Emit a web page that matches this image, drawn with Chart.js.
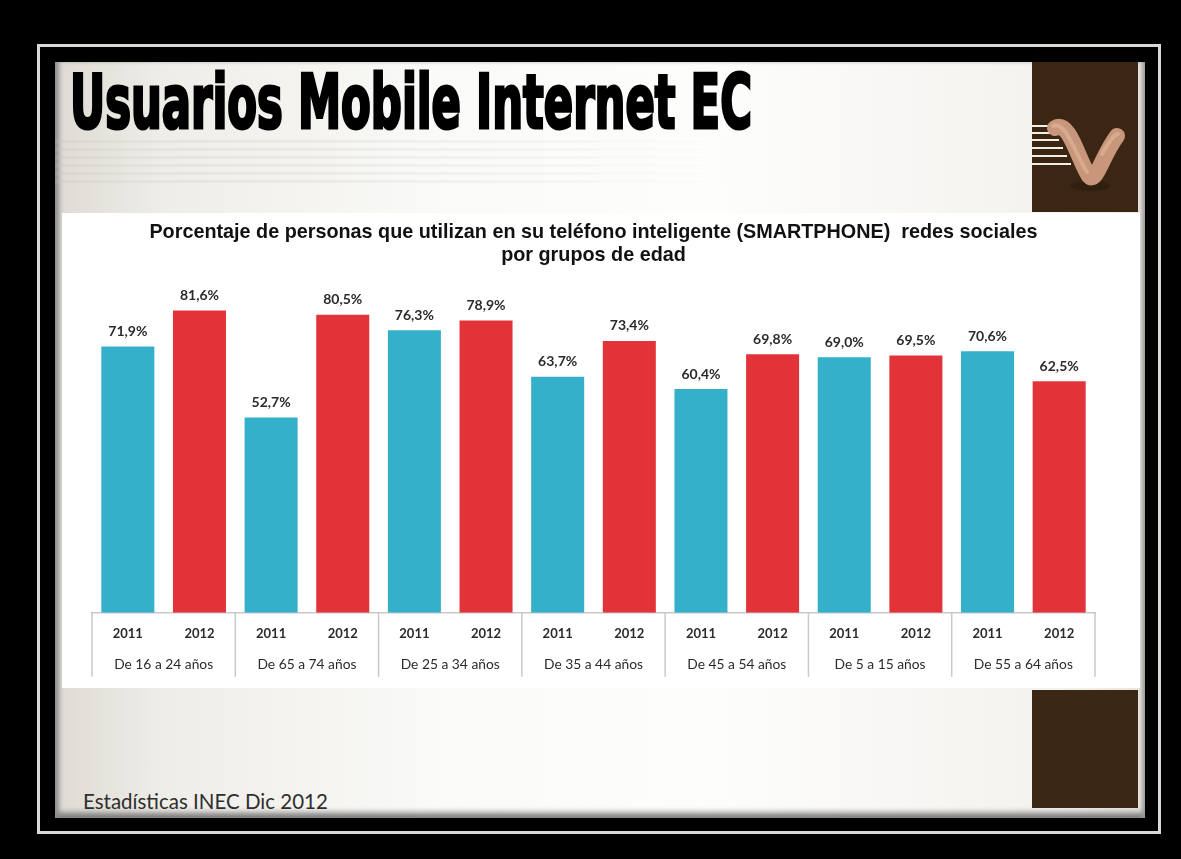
<!DOCTYPE html>
<html lang="es">
<head>
<meta charset="utf-8">
<title>Usuarios Mobile Internet EC</title>
<script src="https://cdn.jsdelivr.net/npm/chart.js@4.4.1/dist/chart.umd.min.js"></script>
<style>
  html, body { margin: 0; padding: 0; }
  body {
    width: 1181px; height: 859px; background: #000;
    position: relative; overflow: hidden;
  }
  /* marco claro alrededor de la diapositiva */
  #marco {
    position: absolute; left: 37px; top: 44px; width: 1124px; height: 790px;
    border: 3px solid #d9d9d9; box-sizing: border-box;
  }
  #diapo {
    position: absolute; left: 55px; top: 62px; width: 1090px; height: 756px;
    background: linear-gradient(90deg, #dedbd4 0%, #efede8 10%, #fafaf8 35%, #fdfdfc 60%, #f4f2ee 92%, #e9e6e0 100%);
    box-shadow: inset 6px 0 5px -2px #8d8d8d, inset -5px 0 4px -2px #9a9a9a, inset 0 -9px 6px -4px #777;
    overflow: hidden;
  }
  #rayas {
    position: absolute; left: 0; top: 78px; width: 700px; height: 45px;
    background: repeating-linear-gradient(180deg, rgba(200,198,192,0.22) 0 3px, rgba(255,255,255,0) 3px 8px);
    -webkit-mask-image: linear-gradient(90deg, #000 0%, #000 40%, transparent 100%);
  }
  #titulo {
    position: absolute; left: 15px; top: 3px;
    font-family: "Liberation Sans Narrow", "DejaVu Sans Condensed", sans-serif;
    font-weight: bold; font-size: 72px; line-height: 72px; color: #000;
    -webkit-text-stroke: 3px #000; white-space: nowrap;
    transform-origin: 0 0;
  }
  .cafe { position: absolute; left: 977px; width: 106px; background: #3b2614; }
  #logo { top: 0; height: 150px; }
  #cafeAbajo { top: 628px; height: 118px; background: #3a2715; }
  #panel {
    position: absolute; left: 7px; top: 151px; width: 1078px; height: 475px;
    background: #fff;
  }
  #pie {
    position: absolute; left: 28px; top: 727px;
    font-family: Lato, "Open Sans", sans-serif; font-size: 20.5px; color: #2e2e2e;
  }
</style>
</head>
<body>
<div id="marco"></div>
<div id="diapo">
  <div id="rayas"></div>
  <div id="titulo">Usuarios Mobile Internet EC</div>
  <div id="logo" class="cafe">
    <svg width="106" height="150" viewBox="0 0 106 150">
      <g fill="#f3eee8">
        <rect x="0" y="63" width="20" height="2"/>
        <rect x="0" y="70" width="24" height="2"/>
        <rect x="0" y="77" width="27" height="2"/>
        <rect x="0" y="85" width="31" height="2"/>
        <rect x="0" y="93" width="35" height="2"/>
        <rect x="0" y="101" width="39" height="2"/>
      </g>
      <ellipse cx="58" cy="124" rx="20" ry="5" fill="#2c1b0d" opacity="0.7"/>
      <path d="M23 66 C 38 58, 46 98, 57 114 C 64 122, 70 94, 85 74"
            fill="none" stroke="#c8967a" stroke-width="16" stroke-linecap="round"/>
      <path d="M21 64 C 34 58, 44 94, 55 110 M 70 92 C 76 82, 80 74, 86 72"
            fill="none" stroke="#e3b79b" stroke-width="4" stroke-linecap="round" opacity="0.6"/>
    </svg>
  </div>
  <div id="panel"><canvas id="grafico"></canvas></div>
  <div id="cafeAbajo" class="cafe"></div>
  <div id="pie">Estadísticas INEC Dic 2012</div>
</div>

<script>
// datos: porcentaje de personas que usan redes sociales en su smartphone
const gruposEdad = [
  "De 16 a 24 años", "De 65 a 74 años", "De 25 a 34 años", "De 35 a 44 años",
  "De 45 a 54 años", "De 5 a 15 años", "De 55 a 64 años",
];
const anios = ["2011", "2012"];
const valores2011 = [71.9, 52.7, 76.3, 63.7, 60.4, 69.0, 70.6];
const valores2012 = [81.6, 80.5, 78.9, 73.4, 69.8, 69.5, 62.5];
const coloresAnio = ["#35b0ca", "#e23438"];
const tituloGrafico = [
  "Porcentaje de personas que utilizan en su teléfono inteligente (SMARTPHONE)  redes sociales",
  "por grupos de edad",
];

// ajustar el ancho del título a la caja
(function ajustarTitulo() {
  const t = document.getElementById("titulo");
  const w = t.getBoundingClientRect().width;
  t.style.transform = `scale(${682 / w}, 1.04)`;
})();

// se aplanan los grupos: una barra por (grupo, año)
const etiquetas = [];
const valores = [];
const colores = [];
gruposEdad.forEach((g, i) => {
  etiquetas.push(anios[0], anios[1]);
  valores.push(valores2011[i], valores2012[i]);
  colores.push(coloresAnio[0], coloresAnio[1]);
});

const fmt = (v) => v.toFixed(1).replace(".", ",") + "%";

// etiquetas de valor encima de cada barra
const valoresEncima = {
  id: "valoresEncima",
  afterDatasetsDraw(chart) {
    const { ctx } = chart;
    const meta = chart.getDatasetMeta(0);
    ctx.save();
    ctx.font = "bold 14px Lato, sans-serif";
    ctx.fillStyle = "#2b2b2b";
    ctx.textAlign = "center";
    ctx.textBaseline = "middle";
    meta.data.forEach((bar, i) => {
      ctx.fillText(fmt(valores[i]), bar.x, bar.y - 15);
    });
    ctx.restore();
  },
};

// separadores verticales de la tabla de categorías
const separadores = {
  id: "separadores",
  afterDraw(chart) {
    const { ctx, chartArea, scales } = chart;
    const x = scales.x;
    const bajo = chartArea.bottom + 64;
    const xs = [x.left];
    for (let g = 1; g < gruposEdad.length; g++) {
      xs.push((x.getPixelForValue(2 * g - 1) + x.getPixelForValue(2 * g)) / 2);
    }
    xs.push(x.right);
    ctx.save();
    ctx.strokeStyle = "#c9c9c9";
    ctx.lineWidth = 1.5;
    xs.forEach((px) => {
      ctx.beginPath();
      ctx.moveTo(px, chartArea.bottom);
      ctx.lineTo(px, bajo);
      ctx.stroke();
    });
    ctx.restore();
  },
};

new Chart(document.getElementById("grafico"), {
  type: "bar",
  data: {
    labels: etiquetas,
    datasets: [{
      data: valores,
      backgroundColor: colores,
      barPercentage: 0.74,
      categoryPercentage: 1,
    }],
  },
  plugins: [valoresEncima, separadores],
  options: {
    responsive: true,
    maintainAspectRatio: false,
    animation: false,
    layout: { padding: { left: 30, right: 45, top: 0, bottom: 13 } },
    plugins: {
      legend: { display: false },
      tooltip: { enabled: false },
      title: {
        display: true,
        text: tituloGrafico,
        color: "#111",
        font: { family: "Liberation Sans", size: 19.8, weight: "bold", lineHeight: 1.16 },
        padding: { top: 8.5, bottom: 12 },
      },
    },
    scales: {
      y: { display: false, min: 0, max: 90 },
      x: {
        grid: { display: false, drawTicks: false },
        border: { display: true, color: "#c9c9c9", width: 1.5 },
        ticks: {
          color: "#2b2b2b", padding: 13, maxRotation: 0, autoSkip: false,
          font: { family: "Lato", size: 13, weight: "bold" },
        },
      },
      x2: {
        type: "category",
        position: "bottom",
        labels: gruposEdad,
        offset: true,
        grid: { display: false, drawTicks: false },
        border: { display: false },
        ticks: {
          color: "#2b2b2b", padding: 2, maxRotation: 0, autoSkip: false,
          font: { family: "Lato", size: 13.8 },
        },
      },
    },
  },
});
</script>
</body>
</html>
